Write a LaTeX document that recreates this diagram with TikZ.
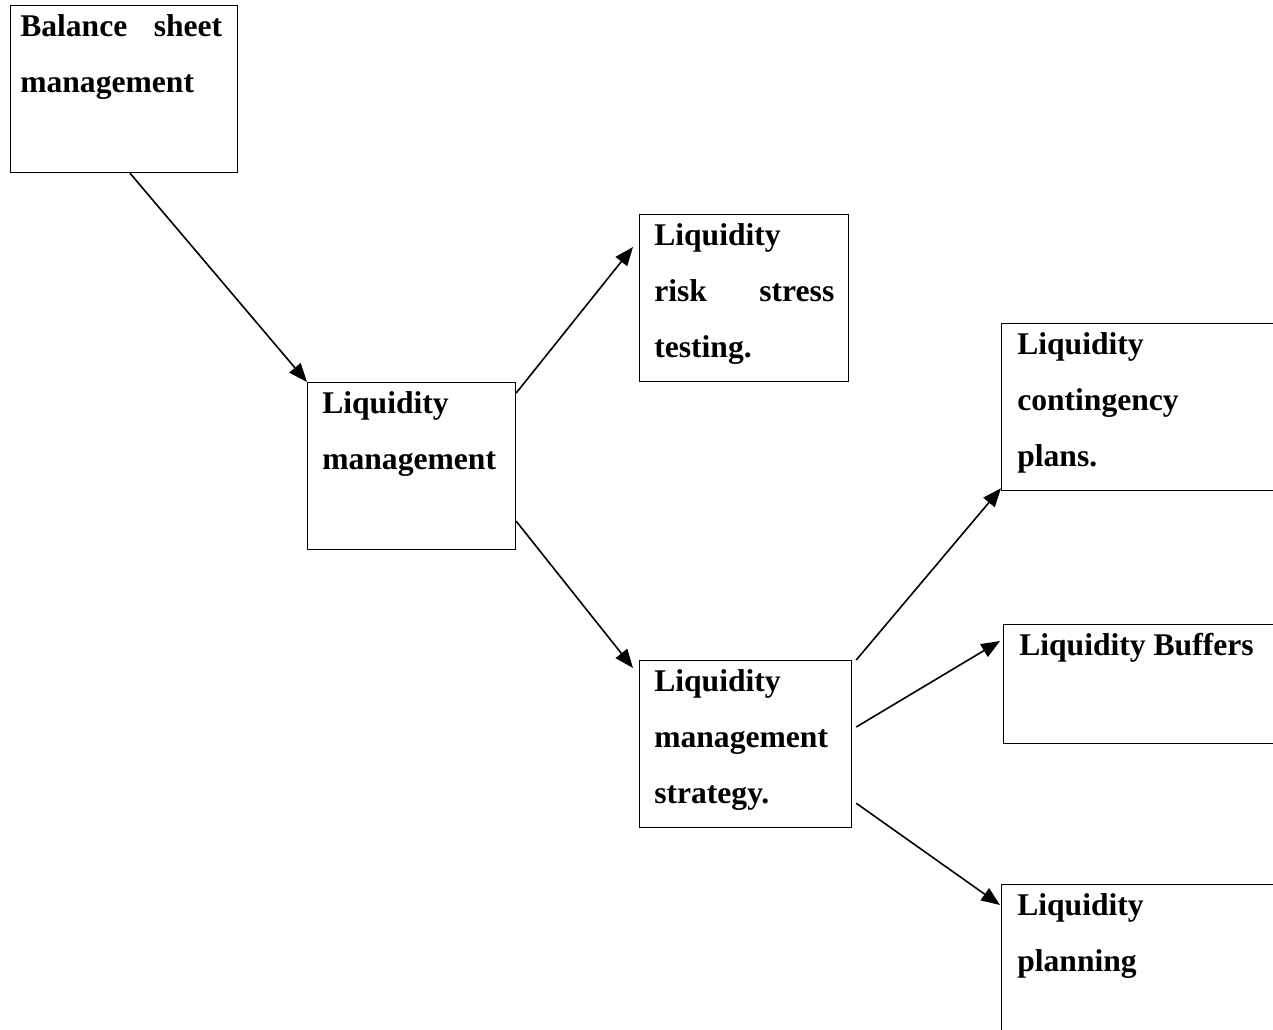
\documentclass[tikz,border=0pt]{standalone}
\usepackage{fontspec}
\setmainfont{Liberation Serif}
\usetikzlibrary{positioning,arrows.meta}

\begin{document}
\begin{tikzpicture}[x=0.75pt,y=-0.75pt]
\tikzset{box/.style={draw=black,line width=0.9pt,rectangle,inner sep=0pt,anchor=north west}}
\tikzset{boxtext/.style={inner sep=0pt,align=left,font=\fontsize{23.7}{42}\selectfont\bfseries}}
\tikzset{link/.style={draw=black,line width=1.2pt,-{Triangle[length=14pt,width=11pt]}}}

\path[use as bounding box,clip] (0,0) rectangle (1273,1029);

% boxes
\node[box,minimum width=170.25pt,minimum height=125.25pt] (bsm) at (10,5) {};
\node[box,minimum width=156pt,minimum height=125.25pt] (lm) at (307,382) {};
\node[box,minimum width=156.75pt,minimum height=125.25pt] (lrst) at (639,214) {};
\node[box,minimum width=216.75pt,minimum height=125.25pt] (lcp) at (1001,323) {};
\node[box,minimum width=159pt,minimum height=125.25pt] (lms) at (639,660) {};
\node[box,minimum width=215.25pt,minimum height=89.25pt] (lb) at (1003,624) {};
\node[box,minimum width=216.75pt,minimum height=117pt] (lp) at (1001,884) {};

% texts
\node[boxtext,text width=151.5pt,below right=7pt and 7.5pt of bsm.north west] (bsmtext) {Balance\hfill sheet\\management};
\node[boxtext,below right=7pt and 11.25pt of lm.north west] (lmtext) {Liquidity\\management};
\node[boxtext,text width=135pt,below right=7pt and 11.25pt of lrst.north west] (lrsttext) {Liquidity\\risk\hfill stress\\testing.};
\node[boxtext,below right=7pt and 12pt of lcp.north west] (lcptext) {Liquidity\\contingency\\plans.};
\node[boxtext,below right=7pt and 11.25pt of lms.north west] (lmstext) {Liquidity\\management\\strategy.};
\node[boxtext,below right=7pt and 12pt of lb.north west] (lbtext) {Liquidity Buffers};
\node[boxtext,below right=7pt and 12pt of lp.north west] (lptext) {Liquidity\\planning};

% arrows
\path[link] ([xshift=90pt]bsm.south west) -- (lm.north west);
\path[link] ([yshift=-8.25pt]lm.north east) -- ([xshift=-4.5pt,yshift=-24.75pt]lrst.north west);
\path[link] ([yshift=21.75pt]lm.south east) -- ([xshift=-4.5pt,yshift=-6pt]lms.north west);
\path[link] ([xshift=3pt]lms.north east) -- ([yshift=2.25pt]lcp.south west);
\path[link] ([xshift=3pt,yshift=-50.25pt]lms.north east) -- ([xshift=-2.25pt,yshift=-12.75pt]lb.north west);
\path[link] ([xshift=3pt,yshift=18.75pt]lms.south east) -- ([xshift=-0.75pt,yshift=-15.75pt]lp.north west);
\end{tikzpicture}
\end{document}
